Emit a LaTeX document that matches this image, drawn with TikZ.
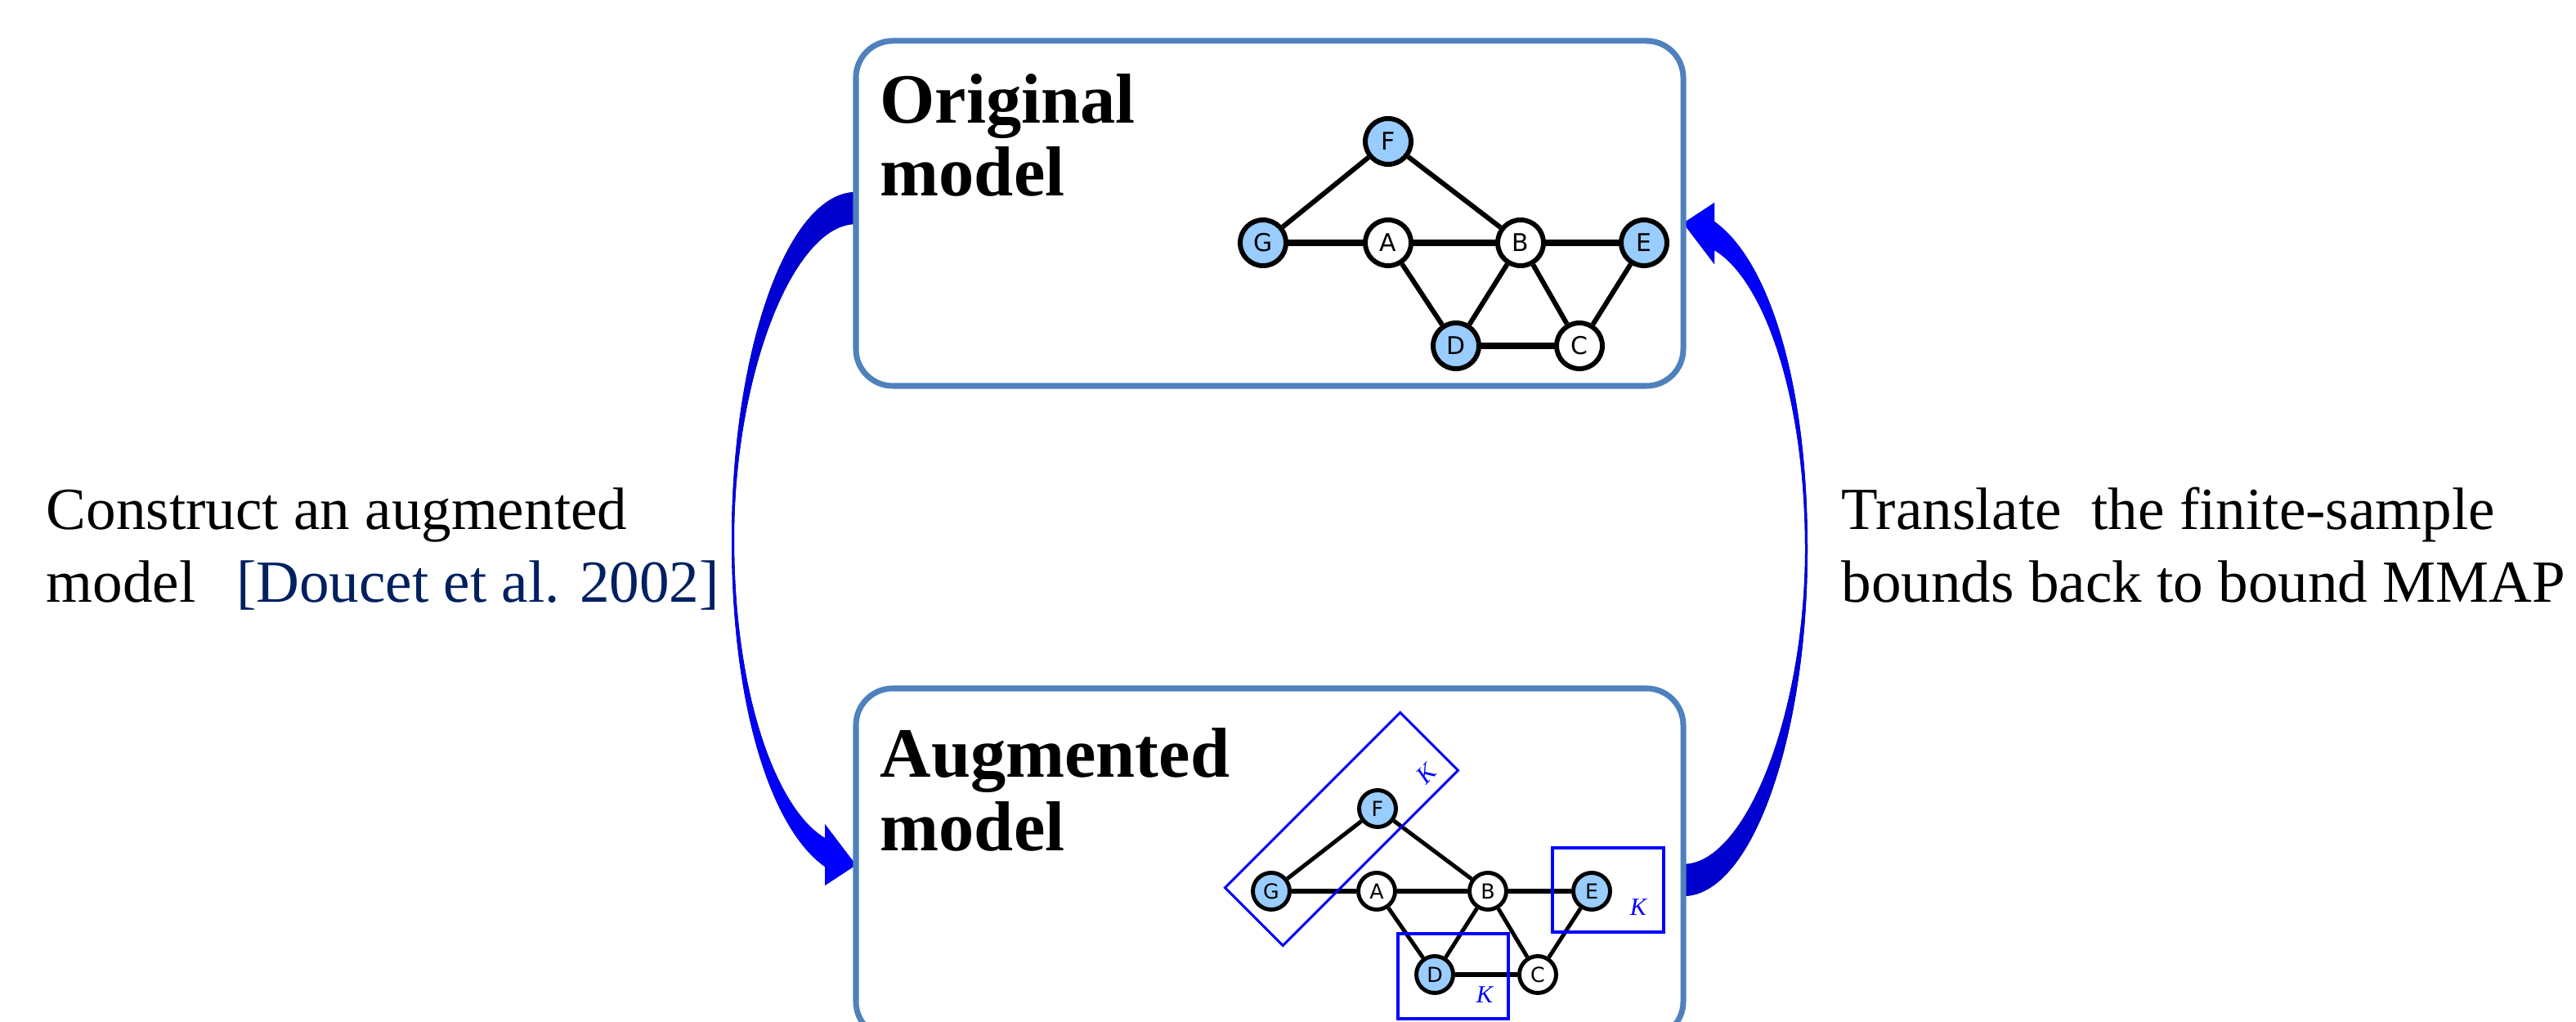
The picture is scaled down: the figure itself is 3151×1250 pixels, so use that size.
\documentclass[tikz,border=0pt]{standalone}
\usepackage{fontspec}
\setmainfont{Liberation Serif}
\newfontfamily\varfont{DejaVu Sans}

\definecolor{boxblue}{HTML}{4F81BD}
\definecolor{obsblue}{HTML}{99CCFF}
\definecolor{arrowdark}{HTML}{0000CC}
\definecolor{citeblue}{HTML}{002060}
\definecolor{plateblue}{HTML}{0000FF}

\tikzset{
  modelbox/.style={draw=boxblue, line width=2pt, rounded corners=0.45cm},
  bigvar/.style={circle, draw, line width=1.7pt, minimum size=0.56cm, inner sep=0pt,
    font={\varfont\fontsize{8.5}{8.5}\selectfont}},
  smallvar/.style={circle, draw, line width=1.4pt, minimum size=0.45cm, inner sep=0pt,
    font={\varfont\fontsize{7.2}{7.2}\selectfont}},
  obs/.style={fill=obsblue},
  hid/.style={fill=white},
  modeltitle/.style={anchor=base west, inner sep=0pt, font={\fontsize{24.6}{25}\selectfont\bfseries}},
  sidetext/.style={anchor=base west, inner sep=0pt, font={\fontsize{20.8}{25}\selectfont}},
  plate/.style={draw=plateblue, line width=1pt, inner sep=0pt},
  platelabel/.style={text=plateblue, inner sep=0pt, font={\fontsize{8.6}{9}\selectfont\itshape}},
}

\begin{document}
\begin{tikzpicture}[x=0.1mm, y=-0.1mm]
  \useasboundingbox (0,0) rectangle (3151,1250);
  \clip (0,0) rectangle (3151,1250);

  % curved arrows between the two models
  \fill[top color=arrowdark, bottom color=blue]
    (1047,235) .. controls (963,235) and (895,430) .. (895,659)
    .. controls (895,870) and (945,1015) .. (1009,1060)
    -- (1009,1083) -- (1047,1058) -- (1009,1008) -- (1009,1025)
    .. controls (950,990) and (898,850) .. (898,659)
    .. controls (898,460) and (970,274) .. (1047,274) -- cycle;
  \fill[top color=blue, bottom color=arrowdark]
    (2059,1096) .. controls (2143,1096) and (2211,901) .. (2211,672)
    .. controls (2211,461) and (2161,316) .. (2097,271)
    -- (2097,248) -- (2059,273) -- (2097,323) -- (2097,306)
    .. controls (2156,341) and (2208,481) .. (2208,672)
    .. controls (2208,871) and (2136,1057) .. (2059,1057) -- cycle;

  \draw[modelbox] (1047,50) rectangle (2059,472);
  \draw[modelbox] (1047,842) rectangle (2059,1270);

  \node[modeltitle] (origA) at (1076,151) {Original};
  \node[modeltitle] (origB) at (1076,240) {model};
  \node[modeltitle] (augA) at (1076,951) {Augmented};
  \node[modeltitle] (augB) at (1076,1041) {model};

  \node[sidetext] (constrA) at (56,648) {Construct an augmented};
  \node[sidetext] (constrB) at (56,737) {model\hspace{0.68em}\textcolor{citeblue}{[Doucet et al. 2002]}};
  \node[sidetext] (transA) at (2252,648) {Translate\ \ the finite-sample};
  \node[sidetext] (transB) at (2252,737) {bounds back to bound MMAP};

  % original model
  \node[bigvar, obs] (tF) at (1698,173) {F};
  \node[bigvar, obs] (tG) at (1545,297) {G};
  \node[bigvar, hid] (tA) at (1698,297) {A};
  \node[bigvar, hid] (tB) at (1860,297) {B};
  \node[bigvar, obs] (tE) at (2011,297) {E};
  \node[bigvar, obs] (tD) at (1781,423) {D};
  \node[bigvar, hid] (tC) at (1932,423) {C};
  \draw[line width=1.7pt] (tG) -- (tF) -- (tB) (tA) -- (tD) -- (tB) -- (tC) -- (tE);
  \draw[line width=2.3pt] (tG) -- (tA) -- (tB) -- (tE) (tD) -- (tC);

  % augmented model
  \node[smallvar, obs] (bF) at (1685,989) {F};
  \node[smallvar, obs] (bG) at (1555,1090) {G};
  \node[smallvar, hid] (bA) at (1684,1090) {A};
  \node[smallvar, hid] (bB) at (1820,1090) {B};
  \node[smallvar, obs] (bE) at (1947,1090) {E};
  \node[smallvar, obs] (bD) at (1755,1192) {D};
  \node[smallvar, hid] (bC) at (1881,1192) {C};
  \draw[line width=1.4pt] (bG) -- (bF) -- (bB) (bA) -- (bD) -- (bB) -- (bC) -- (bE);
  \draw[line width=1.7pt] (bG) -- (bA) -- (bB) -- (bE) (bD) -- (bC);

  % plates
  \node[plate, line width=0.85pt, rotate=45, minimum width=3.03cm, minimum height=1cm] (plateGF) at (1641,1014) {};
  \node[platelabel, rotate=45] (kGF) at (1745,946) {K};
  \node[plate, minimum width=1.36cm, minimum height=1.03cm] (plateE) at (1967,1088.5) {};
  \node[platelabel] (kE) at (2004,1110) {K};
  \node[plate, minimum width=1.35cm, minimum height=1.04cm] (plateD) at (1777.5,1194) {};
  \node[platelabel] (kD) at (1816,1217) {K};
\end{tikzpicture}
\end{document}
